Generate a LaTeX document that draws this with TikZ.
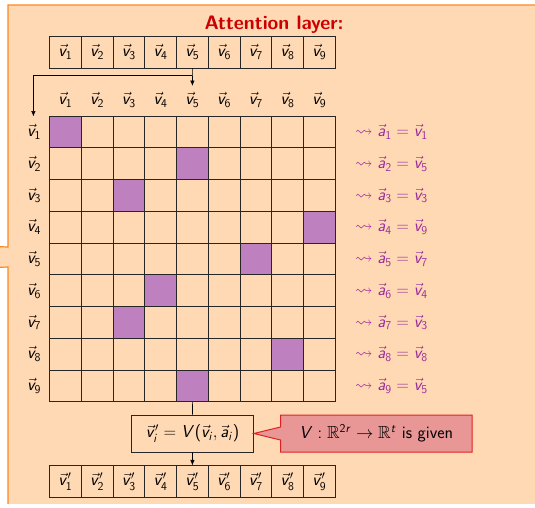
\documentclass[tikz,border=0pt]{standalone}
\usepackage{amsmath,amssymb}
\DeclareSymbolFont{operators}{OT1}{cmss}{m}{n}
\SetSymbolFont{operators}{bold}{OT1}{cmss}{bx}{n}
\DeclareSymbolFont{sfletters}{OT1}{cmss}{m}{sl}
\DeclareMathSymbol{v}{\mathalpha}{sfletters}{`v}
\DeclareMathSymbol{a}{\mathalpha}{sfletters}{`a}
\DeclareMathSymbol{i}{\mathalpha}{sfletters}{`i}
\DeclareMathSymbol{r}{\mathalpha}{sfletters}{`r}
\DeclareMathSymbol{t}{\mathalpha}{sfletters}{`t}
\DeclareMathSymbol{V}{\mathalpha}{sfletters}{`V}
\usetikzlibrary{shapes.callouts,arrows.meta}
\definecolor{bgpeach}{RGB}{255,217,179}
\definecolor{frameorange}{RGB}{255,135,30}
\definecolor{cellpurple}{RGB}{191,128,191}
\definecolor{labpurple}{RGB}{155,45,155}
\definecolor{titlered}{RGB}{204,0,0}
\definecolor{notefill}{RGB}{233,150,150}
\definecolor{noteborder}{RGB}{220,35,35}
\tikzset{
  txt/.style={font=\fontsize{17.5}{21}\selectfont\sffamily},
  cell/.style={txt, draw=black!85, line width=0.7pt, minimum width=31.75pt, minimum height=31.75pt, inner sep=0pt},
  hotcell/.style={cell, fill=cellpurple},
  lab/.style={txt, inner sep=1pt},
  rlab/.style={txt, text=labpurple, anchor=west, inner sep=0pt},
  arr/.style={line width=0.7pt, -{Latex[length=5.5pt,width=4.5pt]}},
  ln/.style={line width=0.7pt},
}
\begin{document}
\begin{tikzpicture}[x=1pt,y=-1pt]
\useasboundingbox (0,0) rectangle (535,507);
\begin{scope}
  \clip (0,0) rectangle (535,503);
  \draw[frameorange, line width=1.2pt, fill=bgpeach]
    (8,5) -- (560,5) -- (560,520) -- (8,520) -- (8,267) -- (-20,268) -- (-20,246) -- (8,247) -- cycle;
\end{scope}
\node[txt, font=\fontsize{19.5}{23}\selectfont\sffamily\bfseries, text=titlered] (title) at (274,25) {Attention layer:};
% top row, column labels, bottom row
\foreach \j in {1,...,9} {
  \pgfmathsetmacro{\xc}{49.5+(\j-0.5)*31.75}
  \node[cell] (t\j) at (\xc,52) {$\vec{v}_{\j}$};
  \node[lab] (c\j) at (\xc,100) {$\vec{v}_{\j}$};
  \node[cell] (b\j) at (\xc,481.7) {$\vec{v}'_{\j}$};
}
% grid
\foreach \r in {1,...,9} {
  \pgfmathsetmacro{\yr}{116+(\r-0.5)*31.75}
  \node[lab] (r\r) at (34,\yr) {$\vec{v}_{\r}$};
  \foreach \j in {1,...,9} {
    \pgfmathsetmacro{\xc}{49.5+(\j-0.5)*31.75}
    \node[cell] (g-\r-\j) at (\xc,\yr) {};
  }
}
\foreach \c [count=\r] in {1,5,3,9,7,4,3,8,5} {
  \node[hotcell] (h\r) at (g-\r-\c) {};
  \node[rlab] (a\r) at (355,{116+(\r-0.5)*31.75}) {$\rightsquigarrow \vec{a}_{\r} = \vec{v}_{\c}$};
}
% connectors
\coordinate (split) at (192.4,75.7);
\coordinate (tip5) at (192.4,86);
\coordinate (tipl) at (33.4,116.5);
\draw[ln] (t5.south) -- (split);
\draw[arr] (split) -- (tip5);
\draw[arr] (split) -| (tipl);
\node[txt, draw=black!85, line width=0.7pt, minimum width=122pt, minimum height=37pt, inner sep=2pt] (eq) at (192.5,433.5)
  {$\vec{v}'_i = V(\vec{v}_i, \vec{a}_i)$};
\draw[ln] (h9.south) -- (eq.north);
\draw[arr] (eq.south) -- (b5.north);
\node[txt, rectangle callout, fill=notefill, draw=noteborder, line width=1pt,
  minimum width=191.5pt, minimum height=37pt, inner sep=2pt,
  callout absolute pointer={(eq.east)}, callout pointer width=13pt] (note) at (376.25,433.5)
  {$V : \mathbb{R}^{2r} \to \mathbb{R}^t$ is given};
\end{tikzpicture}
\end{document}
